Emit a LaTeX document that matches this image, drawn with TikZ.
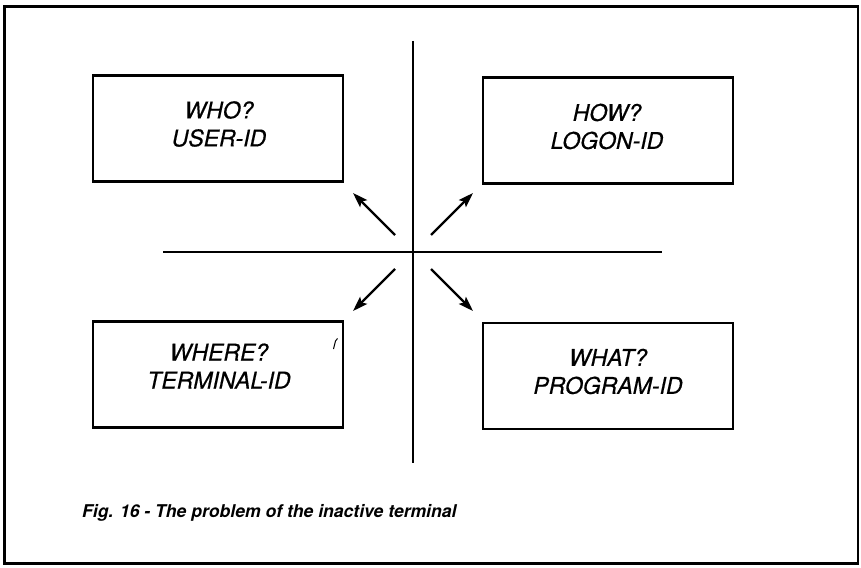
\documentclass[tikz,border=0pt]{standalone}
\usepackage{fontspec}
\setmainfont{TeX Gyre Heros}
\newfontfamily\boxfont[FakeBold=0.5]{TeX Gyre Heros}
\usetikzlibrary{arrows.meta}
\begin{document}
\begin{tikzpicture}[x=1pt,y=-1pt,
  qbox/.style={draw,line width=2.7pt,minimum width=250pt,minimum height=106pt,inner sep=0pt},
  qtext/.style={inner sep=0pt,align=center,font=\fontsize{23}{28}\boxfont\itshape},
  axis/.style={line width=2.4pt},
  pointer/.style={line width=2.4pt,-{Stealth[length=15pt,width=10pt,inset=3pt]}}]
\useasboundingbox (0,0) rectangle (861,567);
% outer frame
\draw[line width=2.7pt] (4.5,6.5) rectangle (858,563.5);
% cross
\draw[axis] (413,41) -- (413,463);
\draw[axis] (163,252) -- (662,252);
% the four question boxes
\node[qbox] (who)   at (218,128.5) {};
\node[qbox] (how)   at (608,130.5) {};
\node[qbox] (where) at (218,374.5) {};
\node[qbox] (what)  at (608,376) {};
\node[qtext] (whoT)   at (219,124)   {WHO?\\USER-ID};
\node[qtext] (howT)   at (607,126.5) {HOW?\\LOGON-ID};
\node[qtext] (whereT) at (219,366)   {WHERE?\\TERMINAL-ID};
\node[qtext] (whatT)  at (608,371.5) {WHAT?\\PROGRAM-ID};
% arrow ends around the crossing
\coordinate (ulS) at (395,235); \coordinate (ulE) at (353,193);
\coordinate (urS) at (431,235); \coordinate (urE) at (473,193);
\coordinate (dlS) at (395,269); \coordinate (dlE) at (353,311);
\coordinate (drS) at (431,269); \coordinate (drE) at (473,311);
\draw[pointer] (ulS) -- (ulE);
\draw[pointer] (urS) -- (urE);
\draw[pointer] (dlS) -- (dlE);
\draw[pointer] (drS) -- (drE);
% small stroke inside the WHERE box
\draw[line width=1pt] (333.5,349) -- (335.5,341) -- (337.5,338.5);
% caption
\node[anchor=base west,inner sep=0pt,font=\fontsize{17.6}{21}\selectfont\bfseries\itshape] (cap) at (82,517)
  {Fig. 16 - The problem of the inactive terminal};
\end{tikzpicture}
\end{document}
